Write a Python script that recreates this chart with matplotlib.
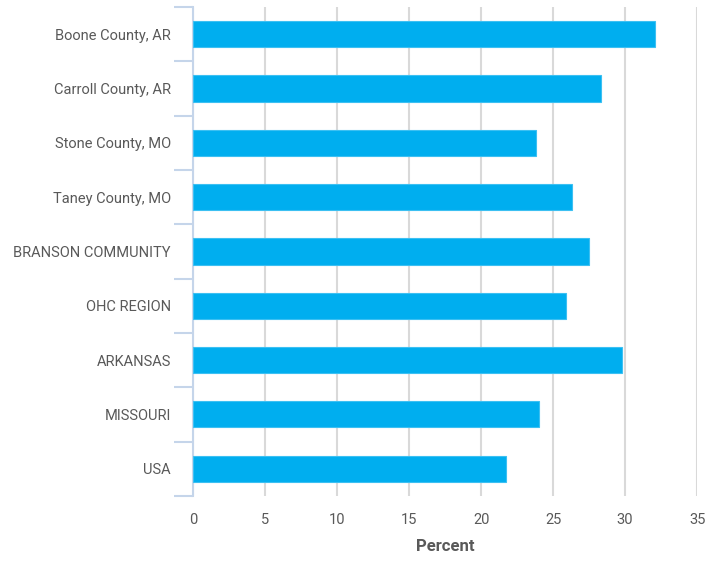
import matplotlib
matplotlib.use("Agg")
import matplotlib.pyplot as plt
import numpy as np

categories = ["Boone County, AR", "Carroll County, AR", "Stone County, MO", "Taney County, MO",
              "BRANSON COMMUNITY", "OHC REGION", "ARKANSAS", "MISSOURI", "USA"]
values = [32.1, 28.3, 23.8, 26.3, 27.5, 25.9, 29.8, 24.0, 21.7]
xticks = [0, 5, 10, 15, 20, 25, 30, 35]

plt.rcParams['font.family'] = ['Roboto', 'DejaVu Sans']

fig = plt.figure(figsize=(7.15, 5.61), dpi=100)
ax = fig.add_axes([0.27, 0.116, 0.705, 0.8715])

n = len(categories)
y = np.arange(n)
ax.barh(y, values, height=0.48, color="#00AEEF", edgecolor="#3cc0f2", linewidth=0.8, zorder=3)
ax.set_ylim(n - 0.5, -0.5)
ax.set_xlim(0, 35)

ax.set_xticks(xticks)
ax.set_xticklabels([str(t) for t in xticks])
ax.grid(axis='x', color="#d9d9d9", linewidth=1.5, zorder=0)
ax.set_axisbelow(True)

ax.set_yticks(y)
ax.set_yticklabels(categories)
ax.set_yticks(np.arange(-0.5, n, 1), minor=True)
ax.tick_params(axis='y', which='major', length=0, pad=16, labelsize=10.5, labelcolor="#595959")
ax.tick_params(axis='y', which='minor', length=14, width=1.5, color="#c5d5ea")
ax.tick_params(axis='x', length=0, pad=12, labelsize=10.5, labelcolor="#595959")

for s in ['top', 'right', 'bottom']:
    ax.spines[s].set_visible(False)
ax.spines['left'].set_color("#c5d5ea")
ax.spines['left'].set_linewidth(1.5)

ax.set_xlabel("Percent", fontsize=12, fontweight='bold', color="#595959", labelpad=9)

fig.savefig("out.png", dpi=100)
